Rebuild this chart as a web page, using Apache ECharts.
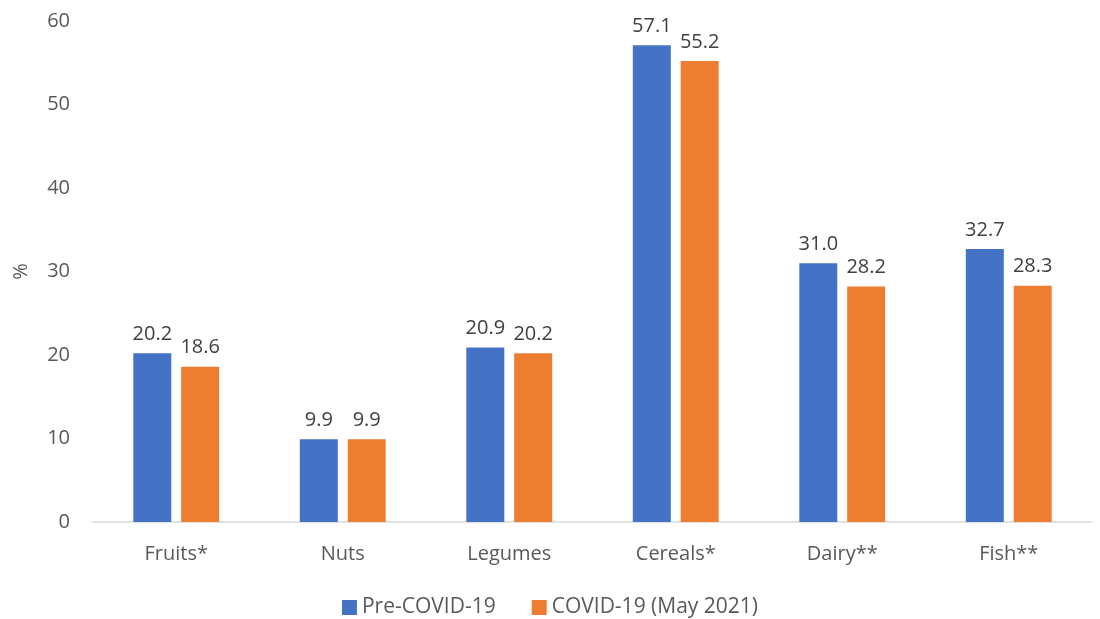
<!DOCTYPE html>
<html>
<head>
<meta charset="utf-8">
<script src="https://cdn.jsdelivr.net/npm/echarts@6/dist/echarts.min.js"></script>
<style>
  html, body { margin: 0; padding: 0; background: #fff; }
  #chart { width: 1100px; height: 619px; }
</style>
</head>
<body>
<div id="chart"></div>
<script>
var categories = ['Fruits*', 'Nuts', 'Legumes', 'Cereals*', 'Dairy**', 'Fish**'];
var preCovid = [20.2, 9.9, 20.9, 57.1, 31.0, 32.7];
var covid = [18.6, 9.9, 20.2, 55.2, 28.2, 28.3];
var seriesNames = ['Pre-COVID-19', 'COVID-19 (May 2021)'];

var font = '"Open Sans", sans-serif';
var chart = echarts.init(document.getElementById('chart'));

var labelStyle = {
  show: true,
  position: 'top',
  distance: 9,
  color: '#404040',
  fontSize: 20,
  fontFamily: font,
  formatter: function (p) { return p.value.toFixed(1); }
};

var option = {
  animation: false,
  textStyle: { fontFamily: font },
  grid: { left: 93, right: 8, top: 21, bottom: 97 },
  legend: {
    top: 592,
    left: 'center',
    itemWidth: 15,
    itemHeight: 15,
    itemGap: 36,
    icon: 'rect',
    textStyle: { color: '#595959', fontSize: 21, fontFamily: font },
    data: seriesNames
  },
  xAxis: {
    type: 'category',
    data: categories,
    axisLine: { lineStyle: { color: '#d9d9d9', width: 1.5 } },
    axisTick: { show: false },
    axisLabel: { color: '#595959', fontSize: 20, fontFamily: font, margin: 22 }
  },
  yAxis: {
    type: 'value',
    min: 0,
    max: 60,
    interval: 10,
    name: '%',
    nameLocation: 'middle',
    nameGap: 62,
    nameRotate: 90,
    nameTextStyle: { color: '#595959', fontSize: 20, fontFamily: font },
    axisLine: { show: false },
    axisTick: { show: false },
    splitLine: { show: false },
    axisLabel: { color: '#595959', fontSize: 20, fontFamily: font, margin: 23 }
  },
  series: [
    {
      name: seriesNames[0],
      type: 'bar',
      data: preCovid,
      barWidth: 38,
      barGap: '26%',
      itemStyle: { color: '#4472c4' },
      label: labelStyle
    },
    {
      name: seriesNames[1],
      type: 'bar',
      data: covid,
      barWidth: 38,
      itemStyle: { color: '#ed7d31' },
      label: labelStyle
    }
  ]
};

chart.setOption(option);
</script>
</body>
</html>
